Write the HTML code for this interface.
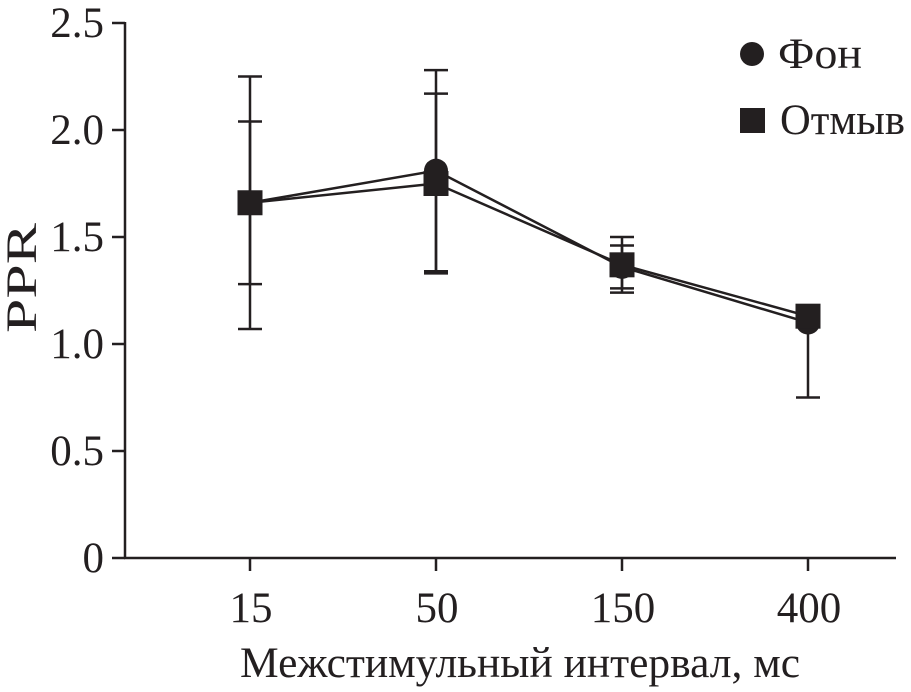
<!DOCTYPE html>
<html><head><meta charset="utf-8"><style>
body{margin:0;background:#fff;width:911px;height:687px;overflow:hidden}
text{font-family:"Liberation Serif",serif;fill:#231f20}
</style></head><body>
<svg id="chart" width="911" height="687" xmlns="http://www.w3.org/2000/svg"></svg>
<script>
const categories=["15","50","150","400"];
const fonValues=[1.66,1.81,1.36,1.10];
const fonUpper=[2.25,2.28,1.46,null];
const fonLower=[1.07,1.34,1.26,0.75];
const otmValues=[1.66,1.75,1.37,1.13];
const otmUpper=[2.04,2.17,1.50,null];
const otmLower=[1.28,1.33,1.24,null];
const yTicks=[0,0.5,1.0,1.5,2.0,2.5];
const yTickLabels=["0","0.5","1.0","1.5","2.0","2.5"];

const svg=document.getElementById('chart');
const NS='http://www.w3.org/2000/svg';
const y=v=>558-v*214;
const x=i=>250+i*186;
const C='#231f20';
function mk(tag,attrs,parent){const e=document.createElementNS(NS,tag);for(const k in attrs)e.setAttribute(k,attrs[k]);(parent||svg).appendChild(e);return e;}

const axes=mk('g',{});


mk('line',{x1:125,y1:22,x2:125,y2:559,stroke:C,'stroke-width':2.5},axes);
mk('line',{x1:124,y1:558,x2:896,y2:558,stroke:C,'stroke-width':2.5},axes);
yTicks.forEach((v,i)=>{
  mk('line',{x1:112,y1:y(v),x2:125,y2:y(v),stroke:C,'stroke-width':2.5},axes);
  const t=mk('text',{x:104,y:y(v)+14,'text-anchor':'end','font-size':43},axes);
  t.textContent=yTickLabels[i];
  
  
});
categories.forEach((c,i)=>{
  mk('line',{x1:x(i),y1:558,x2:x(i),y2:571,stroke:C,'stroke-width':2.5},axes);
  const t=mk('text',{x:x(i)+1,y:622,'text-anchor':'middle','font-size':43},axes);
  t.textContent=c;
  
  
});
const yt=mk('text',{x:0,y:0,transform:'translate(36,278) rotate(-90)','text-anchor':'middle','font-size':43,textLength:110,lengthAdjust:'spacingAndGlyphs'});
yt.textContent='PPR';


const xt=mk('text',{x:240,y:677,'font-size':43,textLength:560,lengthAdjust:'spacingAndGlyphs'});
xt.textContent='Межстимульный интервал, мс';



function errBars(vals,up,lo,name){
  const g=mk('g',{});
  
  
  vals.forEach((v,i)=>{
    [up[i],lo[i]].forEach(e=>{
      if(e==null)return;
      mk('line',{x1:x(i),y1:y(v),x2:x(i),y2:y(e),stroke:C,'stroke-width':2.5},g);
      mk('line',{x1:x(i)-12,y1:y(e),x2:x(i)+12,y2:y(e),stroke:C,'stroke-width':2.5},g);
    });
  });
}
errBars(fonValues,fonUpper,fonLower,'fon-error-bars');
errBars(otmValues,otmUpper,otmLower,'otmyv-error-bars');

const lf=mk('polyline',{points:fonValues.map((v,i)=>x(i)+','+y(v)).join(' '),fill:'none',stroke:C,'stroke-width':2.5});


const lo=mk('polyline',{points:otmValues.map((v,i)=>x(i)+','+y(v)).join(' '),fill:'none',stroke:C,'stroke-width':2.5});


fonValues.forEach((v,i)=>{
  const c=mk('circle',{cx:x(i),cy:y(v),r:12,fill:C});
  
  
});
otmValues.forEach((v,i)=>{
  const r=mk('rect',{x:x(i)-12.5,y:y(v)-12.5,width:25,height:25,fill:C});
  
  
});

const leg=mk('g',{});


mk('circle',{cx:752,cy:54,r:12,fill:C},leg);
const l1=mk('text',{x:778,y:68,'font-size':43,textLength:84,lengthAdjust:'spacingAndGlyphs'},leg);l1.textContent='Фон';


mk('rect',{x:740,y:108,width:25,height:25,fill:C},leg);
const l2=mk('text',{x:780,y:134,'font-size':43,textLength:125,lengthAdjust:'spacingAndGlyphs'},leg);l2.textContent='Отмыв';


</script>
</body></html>
